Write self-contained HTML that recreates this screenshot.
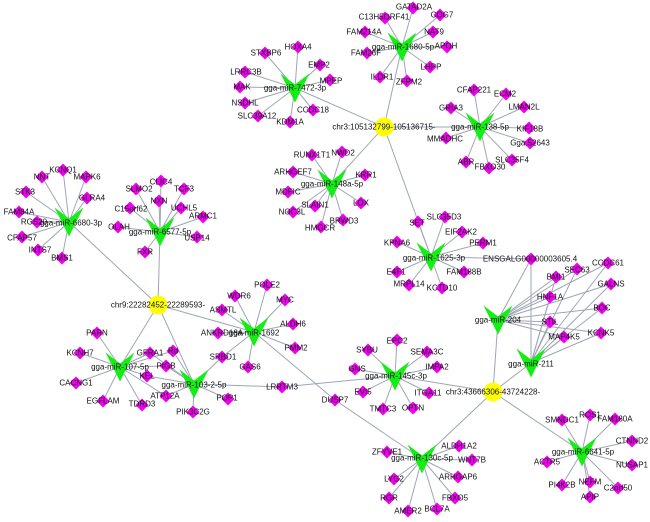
<!DOCTYPE html>
<html>
<head>
<meta charset="utf-8">
<style>
html,body{margin:0;padding:0;background:#fff;}
svg{display:block;}
text{font-family:"Liberation Sans",Arial,sans-serif;font-size:8px;fill:#111;text-anchor:middle;dominant-baseline:central;}
line{stroke:#9ea6b4;stroke-width:1;}
</style>
</head>
<body>
<svg width="650" height="522" viewBox="0 0 650 522" xmlns="http://www.w3.org/2000/svg">
<defs>
<path id="d" d="M0,-6.5L6.5,0L0,6.5L-6.5,0Z" fill="#f000f0"/>
<path id="v" d="M-14.5,-14.5L0,-3.5L14.5,-14.5L0,14.5Z" fill="#14ee14"/>
</defs>

<!-- EDGES -->
<g>
<!-- chr3a hub -->
<line x1="384" y1="127" x2="295" y2="88"/>
<line x1="384" y1="127" x2="402" y2="47"/>
<line x1="384" y1="127" x2="480" y2="127"/>
<line x1="384" y1="127" x2="332" y2="184"/>
<line x1="384" y1="127" x2="431" y2="257"/>
<!-- chr9 hub -->
<line x1="158" y1="305" x2="69" y2="222"/>
<line x1="158" y1="305" x2="160" y2="232"/>
<line x1="158" y1="305" x2="254" y2="332"/>
<line x1="158" y1="305" x2="120" y2="367"/>
<line x1="158" y1="305" x2="194" y2="384"/>
<!-- chr3b hub -->
<line x1="493" y1="392" x2="498" y2="320"/>
<line x1="493" y1="392" x2="531" y2="363"/>
<line x1="493" y1="392" x2="395" y2="376"/>
<line x1="493" y1="392" x2="422" y2="459"/>
<line x1="493" y1="392" x2="582" y2="452"/>

<!-- 7472-3p -->
<line x1="295" y1="88" x2="265" y2="53"/>
<line x1="295" y1="88" x2="298" y2="47"/>
<line x1="295" y1="88" x2="320" y2="65"/>
<line x1="295" y1="88" x2="330" y2="80"/>
<line x1="295" y1="88" x2="245" y2="72"/>
<line x1="295" y1="88" x2="240" y2="87"/>
<line x1="295" y1="88" x2="245" y2="103"/>
<line x1="295" y1="88" x2="258" y2="116"/>
<line x1="295" y1="88" x2="290" y2="122"/>
<line x1="295" y1="88" x2="313" y2="110"/>

<!-- 1680-5p -->
<line x1="402" y1="47" x2="413" y2="8"/>
<line x1="402" y1="47" x2="385" y2="18"/>
<line x1="402" y1="47" x2="440" y2="15"/>
<line x1="402" y1="47" x2="433" y2="32"/>
<line x1="402" y1="47" x2="365" y2="32"/>
<line x1="402" y1="47" x2="447" y2="47"/>
<line x1="402" y1="47" x2="367" y2="53"/>
<line x1="402" y1="47" x2="430" y2="67"/>
<line x1="402" y1="47" x2="380" y2="77"/>
<line x1="402" y1="47" x2="407" y2="81"/>

<!-- 138-5p -->
<line x1="480" y1="127" x2="474" y2="90"/>
<line x1="480" y1="127" x2="506" y2="94"/>
<line x1="480" y1="127" x2="451" y2="108"/>
<line x1="480" y1="127" x2="524" y2="107"/>
<line x1="480" y1="127" x2="446" y2="138"/>
<line x1="480" y1="127" x2="529" y2="128"/>
<line x1="480" y1="127" x2="530" y2="143"/>
<line x1="480" y1="127" x2="466" y2="162"/>
<line x1="480" y1="127" x2="489" y2="168"/>
<line x1="480" y1="127" x2="512" y2="160"/>

<!-- 148a-5p -->
<line x1="332" y1="184" x2="312" y2="155"/>
<line x1="332" y1="184" x2="342" y2="152"/>
<line x1="332" y1="184" x2="293" y2="172"/>
<line x1="332" y1="184" x2="365" y2="175"/>
<line x1="332" y1="184" x2="288" y2="192"/>
<line x1="332" y1="184" x2="315" y2="206"/>
<line x1="332" y1="184" x2="361" y2="203"/>
<line x1="332" y1="184" x2="293" y2="212"/>
<line x1="332" y1="184" x2="343" y2="220"/>
<line x1="332" y1="184" x2="321" y2="227"/>

<!-- 6680-3p -->
<line x1="69" y1="222" x2="63" y2="170"/>
<line x1="69" y1="222" x2="42" y2="177"/>
<line x1="69" y1="222" x2="86" y2="177"/>
<line x1="69" y1="222" x2="26" y2="192"/>
<line x1="69" y1="222" x2="87" y2="198"/>
<line x1="69" y1="222" x2="19" y2="212"/>
<line x1="69" y1="222" x2="37" y2="222"/>
<line x1="69" y1="222" x2="22" y2="237"/>
<line x1="69" y1="222" x2="38" y2="250"/>
<line x1="69" y1="222" x2="62" y2="258"/>

<!-- 6577-5p -->
<line x1="160" y1="232" x2="161" y2="181"/>
<line x1="160" y1="232" x2="136" y2="189"/>
<line x1="160" y1="232" x2="184" y2="189"/>
<line x1="160" y1="232" x2="159" y2="201"/>
<line x1="160" y1="232" x2="130" y2="208"/>
<line x1="160" y1="232" x2="181" y2="208"/>
<line x1="160" y1="232" x2="203" y2="217"/>
<line x1="160" y1="232" x2="118" y2="227"/>
<line x1="160" y1="232" x2="197" y2="237"/>
<line x1="160" y1="232" x2="145" y2="252"/>

<!-- 1692 -->
<line x1="254" y1="332" x2="267" y2="285"/>
<line x1="254" y1="332" x2="235" y2="296"/>
<line x1="254" y1="332" x2="285" y2="300"/>
<line x1="254" y1="332" x2="222" y2="310"/>
<line x1="254" y1="332" x2="293" y2="324"/>
<line x1="254" y1="332" x2="218" y2="333"/>
<line x1="254" y1="332" x2="295" y2="348"/>
<line x1="254" y1="332" x2="222" y2="357"/>
<line x1="254" y1="332" x2="248" y2="367"/>
<line x1="254" y1="332" x2="335" y2="400"/>
<line x1="335" y1="400" x2="422" y2="459"/>

<!-- 107-5p -->
<line x1="120" y1="367" x2="97" y2="333"/>
<line x1="120" y1="367" x2="80" y2="353"/>
<line x1="120" y1="367" x2="150" y2="353"/>
<line x1="120" y1="367" x2="173" y2="351"/>
<line x1="120" y1="367" x2="166" y2="366"/>
<line x1="120" y1="367" x2="147" y2="376"/>
<line x1="120" y1="367" x2="76" y2="383"/>
<line x1="120" y1="367" x2="166" y2="396"/>
<line x1="120" y1="367" x2="103" y2="401"/>
<line x1="120" y1="367" x2="142" y2="405"/>

<!-- 103-2-5p -->
<line x1="194" y1="384" x2="150" y2="353"/>
<line x1="194" y1="384" x2="173" y2="351"/>
<line x1="194" y1="384" x2="166" y2="366"/>
<line x1="194" y1="384" x2="147" y2="376"/>
<line x1="194" y1="384" x2="166" y2="396"/>
<line x1="194" y1="384" x2="193" y2="412"/>
<line x1="194" y1="384" x2="228" y2="399"/>
<line x1="194" y1="384" x2="222" y2="357"/>
<line x1="194" y1="384" x2="282" y2="387"/>
<line x1="282" y1="387" x2="395" y2="376"/>

<!-- 1625-3p -->
<line x1="431" y1="257" x2="418" y2="222"/>
<line x1="431" y1="257" x2="445" y2="217"/>
<line x1="431" y1="257" x2="462" y2="232"/>
<line x1="431" y1="257" x2="483" y2="243"/>
<line x1="431" y1="257" x2="397" y2="242"/>
<line x1="431" y1="257" x2="397" y2="272"/>
<line x1="431" y1="257" x2="464" y2="272"/>
<line x1="431" y1="257" x2="409" y2="285"/>
<line x1="431" y1="257" x2="442" y2="288"/>
<line x1="431" y1="257" x2="531" y2="259"/>

<!-- 204 / 211 -->
<line x1="498" y1="320" x2="531" y2="259"/>
<line x1="498" y1="320" x2="608" y2="263"/>
<line x1="498" y1="320" x2="577" y2="269"/>
<line x1="498" y1="320" x2="556" y2="277"/>
<line x1="498" y1="320" x2="611" y2="284"/>
<line x1="498" y1="320" x2="550" y2="297"/>
<line x1="498" y1="320" x2="602" y2="308"/>
<line x1="498" y1="320" x2="550" y2="322"/>
<line x1="498" y1="320" x2="601" y2="333"/>
<line x1="498" y1="320" x2="564" y2="337"/>
<line x1="531" y1="363" x2="531" y2="259"/>
<line x1="531" y1="363" x2="608" y2="263"/>
<line x1="531" y1="363" x2="577" y2="269"/>
<line x1="531" y1="363" x2="556" y2="277"/>
<line x1="531" y1="363" x2="611" y2="284"/>
<line x1="531" y1="363" x2="550" y2="297"/>
<line x1="531" y1="363" x2="602" y2="308"/>
<line x1="531" y1="363" x2="550" y2="322"/>
<line x1="531" y1="363" x2="601" y2="333"/>
<line x1="531" y1="363" x2="564" y2="337"/>

<!-- 145c-3p -->
<line x1="395" y1="376" x2="397" y2="340"/>
<line x1="395" y1="376" x2="368" y2="350"/>
<line x1="395" y1="376" x2="427" y2="352"/>
<line x1="395" y1="376" x2="355" y2="369"/>
<line x1="395" y1="376" x2="437" y2="367"/>
<line x1="395" y1="376" x2="363" y2="392"/>
<line x1="395" y1="376" x2="429" y2="393"/>
<line x1="395" y1="376" x2="383" y2="409"/>
<line x1="395" y1="376" x2="413" y2="408"/>

<!-- 130c-5p -->
<line x1="422" y1="459" x2="387" y2="452"/>
<line x1="422" y1="459" x2="459" y2="446"/>
<line x1="422" y1="459" x2="472" y2="460"/>
<line x1="422" y1="459" x2="394" y2="479"/>
<line x1="422" y1="459" x2="458" y2="477"/>
<line x1="422" y1="459" x2="389" y2="498"/>
<line x1="422" y1="459" x2="455" y2="498"/>
<line x1="422" y1="459" x2="408" y2="511"/>
<line x1="422" y1="459" x2="437" y2="509"/>

<!-- 6641-5p -->
<line x1="582" y1="452" x2="562" y2="420"/>
<line x1="582" y1="452" x2="590" y2="415"/>
<line x1="582" y1="452" x2="615" y2="419"/>
<line x1="582" y1="452" x2="632" y2="441"/>
<line x1="582" y1="452" x2="547" y2="462"/>
<line x1="582" y1="452" x2="632" y2="465"/>
<line x1="582" y1="452" x2="562" y2="485"/>
<line x1="582" y1="452" x2="590" y2="482"/>
<line x1="582" y1="452" x2="618" y2="488"/>
<line x1="582" y1="452" x2="590" y2="497"/>
</g>

<!-- CIRCLES -->
<circle cx="384" cy="127" r="9.5" fill="#ffff00"/>
<circle cx="158" cy="305" r="9.5" fill="#ffff00"/>
<circle cx="493" cy="392" r="9.5" fill="#ffff00"/>

<!-- DIAMONDS -->
<g>
<use href="#d" x="265" y="53"/><use href="#d" x="298" y="47"/><use href="#d" x="320" y="65"/><use href="#d" x="330" y="80"/><use href="#d" x="245" y="72"/><use href="#d" x="240" y="87"/><use href="#d" x="245" y="103"/><use href="#d" x="258" y="116"/><use href="#d" x="290" y="122"/><use href="#d" x="313" y="110"/>
<use href="#d" x="413" y="8"/><use href="#d" x="385" y="18"/><use href="#d" x="440" y="15"/><use href="#d" x="433" y="32"/><use href="#d" x="365" y="32"/><use href="#d" x="447" y="47"/><use href="#d" x="367" y="53"/><use href="#d" x="430" y="67"/><use href="#d" x="380" y="77"/><use href="#d" x="407" y="81"/>
<use href="#d" x="474" y="90"/><use href="#d" x="506" y="94"/><use href="#d" x="451" y="108"/><use href="#d" x="524" y="107"/><use href="#d" x="446" y="138"/><use href="#d" x="529" y="128"/><use href="#d" x="530" y="143"/><use href="#d" x="466" y="162"/><use href="#d" x="489" y="168"/><use href="#d" x="512" y="160"/>
<use href="#d" x="312" y="155"/><use href="#d" x="342" y="152"/><use href="#d" x="293" y="172"/><use href="#d" x="365" y="175"/><use href="#d" x="288" y="192"/><use href="#d" x="315" y="206"/><use href="#d" x="361" y="203"/><use href="#d" x="293" y="212"/><use href="#d" x="343" y="220"/><use href="#d" x="321" y="227"/>
<use href="#d" x="63" y="170"/><use href="#d" x="42" y="177"/><use href="#d" x="86" y="177"/><use href="#d" x="26" y="192"/><use href="#d" x="87" y="198"/><use href="#d" x="19" y="212"/><use href="#d" x="37" y="222"/><use href="#d" x="22" y="237"/><use href="#d" x="38" y="250"/><use href="#d" x="62" y="258"/>
<use href="#d" x="161" y="181"/><use href="#d" x="136" y="189"/><use href="#d" x="184" y="189"/><use href="#d" x="159" y="201"/><use href="#d" x="130" y="208"/><use href="#d" x="181" y="208"/><use href="#d" x="203" y="217"/><use href="#d" x="118" y="227"/><use href="#d" x="197" y="237"/><use href="#d" x="145" y="252"/>
<use href="#d" x="267" y="285"/><use href="#d" x="235" y="296"/><use href="#d" x="285" y="300"/><use href="#d" x="222" y="310"/><use href="#d" x="293" y="324"/><use href="#d" x="218" y="333"/><use href="#d" x="295" y="348"/><use href="#d" x="222" y="357"/><use href="#d" x="248" y="367"/><use href="#d" x="335" y="400"/>
<use href="#d" x="97" y="333"/><use href="#d" x="80" y="353"/><use href="#d" x="150" y="353"/><use href="#d" x="173" y="351"/><use href="#d" x="166" y="366"/><use href="#d" x="147" y="376"/><use href="#d" x="76" y="383"/><use href="#d" x="166" y="396"/><use href="#d" x="103" y="401"/><use href="#d" x="142" y="405"/>
<use href="#d" x="193" y="412"/><use href="#d" x="228" y="399"/><use href="#d" x="282" y="387"/>
<use href="#d" x="418" y="222"/><use href="#d" x="445" y="217"/><use href="#d" x="462" y="232"/><use href="#d" x="483" y="243"/><use href="#d" x="397" y="242"/><use href="#d" x="397" y="272"/><use href="#d" x="464" y="272"/><use href="#d" x="409" y="285"/><use href="#d" x="442" y="288"/><use href="#d" x="531" y="259"/>
<use href="#d" x="608" y="263"/><use href="#d" x="577" y="269"/><use href="#d" x="556" y="277"/><use href="#d" x="611" y="284"/><use href="#d" x="550" y="297"/><use href="#d" x="602" y="308"/><use href="#d" x="550" y="322"/><use href="#d" x="601" y="333"/><use href="#d" x="564" y="337"/>
<use href="#d" x="397" y="340"/><use href="#d" x="368" y="350"/><use href="#d" x="427" y="352"/><use href="#d" x="355" y="369"/><use href="#d" x="437" y="367"/><use href="#d" x="363" y="392"/><use href="#d" x="429" y="393"/><use href="#d" x="383" y="409"/><use href="#d" x="413" y="408"/>
<use href="#d" x="387" y="452"/><use href="#d" x="459" y="446"/><use href="#d" x="472" y="460"/><use href="#d" x="394" y="479"/><use href="#d" x="458" y="477"/><use href="#d" x="389" y="498"/><use href="#d" x="455" y="498"/><use href="#d" x="408" y="511"/><use href="#d" x="437" y="509"/>
<use href="#d" x="562" y="420"/><use href="#d" x="590" y="415"/><use href="#d" x="615" y="419"/><use href="#d" x="632" y="441"/><use href="#d" x="547" y="462"/><use href="#d" x="632" y="465"/><use href="#d" x="562" y="485"/><use href="#d" x="590" y="482"/><use href="#d" x="618" y="488"/><use href="#d" x="590" y="497"/>
</g>

<!-- miRNA V nodes -->
<g>
<use href="#v" x="295" y="88"/>
<use href="#v" x="402" y="47"/>
<use href="#v" x="480" y="127"/>
<use href="#v" x="332" y="184"/>
<use href="#v" x="69" y="222"/>
<use href="#v" x="160" y="232"/>
<use href="#v" x="254" y="332"/>
<use href="#v" x="120" y="367"/>
<use href="#v" x="194" y="384"/>
<use href="#v" x="431" y="257"/>
<use href="#v" x="498" y="320"/>
<use href="#v" x="531" y="363"/>
<use href="#v" x="395" y="376"/>
<use href="#v" x="422" y="459"/>
<use href="#v" x="582" y="452"/>
</g>

<!-- LABELS -->
<g>
<text x="384" y="127">chr3:105132799-105136715-</text>
<text x="158" y="305">chr9:22282452-22289593-</text>
<text x="493" y="392">chr3:43666306-43724228-</text>

<text x="295" y="88">gga-miR-7472-3p</text>
<text x="403" y="47">gga-miR-1680-5p</text>
<text x="480" y="127">gga-miR-138-5p</text>
<text x="332" y="184">gga-miR-148a-5p</text>
<text x="71" y="223">gga-miR-6680-3p</text>
<text x="160" y="232">gga-miR-6577-5p</text>
<text x="254" y="333">gga-miR-1692</text>
<text x="120" y="367">gga-miR-107-5p</text>
<text x="194" y="385">gga-miR-103-2-5p</text>
<text x="434" y="258">gga-miR-1625-3p</text>
<text x="498" y="320">gga-miR-204</text>
<text x="531" y="364">gga-miR-211</text>
<text x="396" y="376">gga-miR-145c-3p</text>
<text x="422" y="458">gga-miR-130c-5p</text>
<text x="583" y="452">gga-miR-6641-5p</text>

<text x="266" y="53">STXBP6</text>
<text x="298" y="47">HOXA4</text>
<text x="319" y="65">EMP2</text>
<text x="331" y="81">MPEP</text>
<text x="246" y="72">LRRC3B</text>
<text x="242" y="87">MAK</text>
<text x="245" y="103">NSDHL</text>
<text x="257" y="116">SLC39A12</text>
<text x="290" y="122">KDM1A</text>
<text x="313" y="110">CCDC18</text>

<text x="414" y="7">GATAD2A</text>
<text x="384" y="17">C13H5ORF41</text>
<text x="442" y="15">COG7</text>
<text x="434" y="32">NAT9</text>
<text x="364" y="32">FAM214A</text>
<text x="446" y="46">APOH</text>
<text x="366" y="53">FAM26F</text>
<text x="431" y="67">LHPP</text>
<text x="382" y="77">ILDR1</text>
<text x="409" y="82">ZFPM2</text>

<text x="474" y="90">CFAP221</text>
<text x="505" y="94">ECM2</text>
<text x="451" y="108">GRIA3</text>
<text x="524" y="107">LMAN2L</text>
<text x="445" y="139">MMADHC</text>
<text x="530" y="129">KIF18B</text>
<text x="530" y="143">Gga.52643</text>
<text x="466" y="162">ABR</text>
<text x="490" y="167">FBXO30</text>
<text x="512" y="160">SLC35F4</text>

<text x="312" y="155">RUNX1T1</text>
<text x="343" y="153">NWD2</text>
<text x="293" y="172">ARHGEF7</text>
<text x="366" y="175">KRR1</text>
<text x="288" y="192">MDFIC</text>
<text x="315" y="205">SLAIN1</text>
<text x="361" y="203">LOX</text>
<text x="292" y="212">NOC3L</text>
<text x="344" y="221">BRWD3</text>
<text x="320" y="228">HMGCR</text>

<text x="63" y="170">KCNQ1</text>
<text x="42" y="177">NNT</text>
<text x="87" y="177">MAPK6</text>
<text x="25" y="192">STK3</text>
<text x="92" y="198">GLRA4</text>
<text x="19" y="212">FAM84A</text>
<text x="34" y="222">RGS20</text>
<text x="22" y="238">CFAP57</text>
<text x="40" y="250">INTS7</text>
<text x="62" y="258">BMS1</text>

<text x="161" y="182">CLIC4</text>
<text x="139" y="189">SLMO2</text>
<text x="184" y="189">TCF3</text>
<text x="159" y="201">NXN</text>
<text x="131" y="209">C15orf62</text>
<text x="184" y="208">UCHL5</text>
<text x="203" y="216">ARMC1</text>
<text x="119" y="227">OLAH</text>
<text x="197" y="238">USP14</text>
<text x="145" y="252">FXR</text>

<text x="267" y="285">POLE2</text>
<text x="239" y="296">WDR6</text>
<text x="285" y="300">MYC</text>
<text x="223" y="310">ASMTL</text>
<text x="293" y="324">ALDH6</text>
<text x="222" y="333">ANKRD18A</text>
<text x="296" y="348">PMM2</text>
<text x="223" y="357">SRBD1</text>
<text x="250" y="367">GAS6</text>
<text x="335" y="400">DUSP7</text>

<text x="97" y="333">PARN</text>
<text x="80" y="353">KCNH7</text>
<text x="150" y="353">GFRA1</text>
<text x="173" y="351">Rd</text>
<text x="166" y="366">PIGB</text>
<text x="147" y="376">KEL</text>
<text x="76" y="383">CACNG1</text>
<text x="165" y="396">ATP12A</text>
<text x="103" y="401">EGFLAM</text>
<text x="142" y="404">TDRD3</text>
<text x="193" y="412">PIK3C2G</text>
<text x="227" y="398">POP1</text>
<text x="282" y="387">LRRTM3</text>

<text x="417" y="223">SET</text>
<text x="444" y="217">SLC35D3</text>
<text x="461" y="232">EIF2AK2</text>
<text x="483" y="243">PERM1</text>
<text x="397" y="243">KPNA6</text>
<text x="396" y="272">E4F1</text>
<text x="464" y="272">FAM188B</text>
<text x="409" y="284">MRPL14</text>
<text x="442" y="288">KCTD10</text>
<text x="530" y="259">ENSGALG00000003605.4</text>

<text x="608" y="263">CCDC61</text>
<text x="577" y="270">SEC63</text>
<text x="556" y="277">BMI1</text>
<text x="611" y="284">GALNS</text>
<text x="550" y="297">HNF1A</text>
<text x="602" y="308">BOC</text>
<text x="550" y="322">STIL</text>
<text x="601" y="333">KCNK5</text>
<text x="564" y="337">MAP4K5</text>

<text x="397" y="341">EPC2</text>
<text x="367" y="350">SYBU</text>
<text x="427" y="352">SEMA3C</text>
<text x="357" y="369">GNS</text>
<text x="437" y="367">IMPA2</text>
<text x="363" y="392">EVI5</text>
<text x="428" y="393">ITGA11</text>
<text x="383" y="409">TMTC3</text>
<text x="413" y="408">OPTN</text>

<text x="387" y="452">ZFYVE1</text>
<text x="459" y="446">ALDH1A2</text>
<text x="472" y="460">WNT7B</text>
<text x="394" y="479">LYG2</text>
<text x="458" y="477">ARHGAP6</text>
<text x="389" y="498">RGR</text>
<text x="455" y="498">FBXO5</text>
<text x="408" y="511">AMER2</text>
<text x="437" y="509">BCL7A</text>

<text x="562" y="420">SMNDC1</text>
<text x="590" y="415">ROS1</text>
<text x="615" y="419">FAM180A</text>
<text x="632" y="441">CTNND2</text>
<text x="547" y="462">ACTR5</text>
<text x="632" y="465">NUSAP1</text>
<text x="562" y="485">PI4K2B</text>
<text x="590" y="482">NEFM</text>
<text x="618" y="488">C2orf50</text>
<text x="590" y="497">APIP</text>
</g>
</svg>
</body>
</html>
